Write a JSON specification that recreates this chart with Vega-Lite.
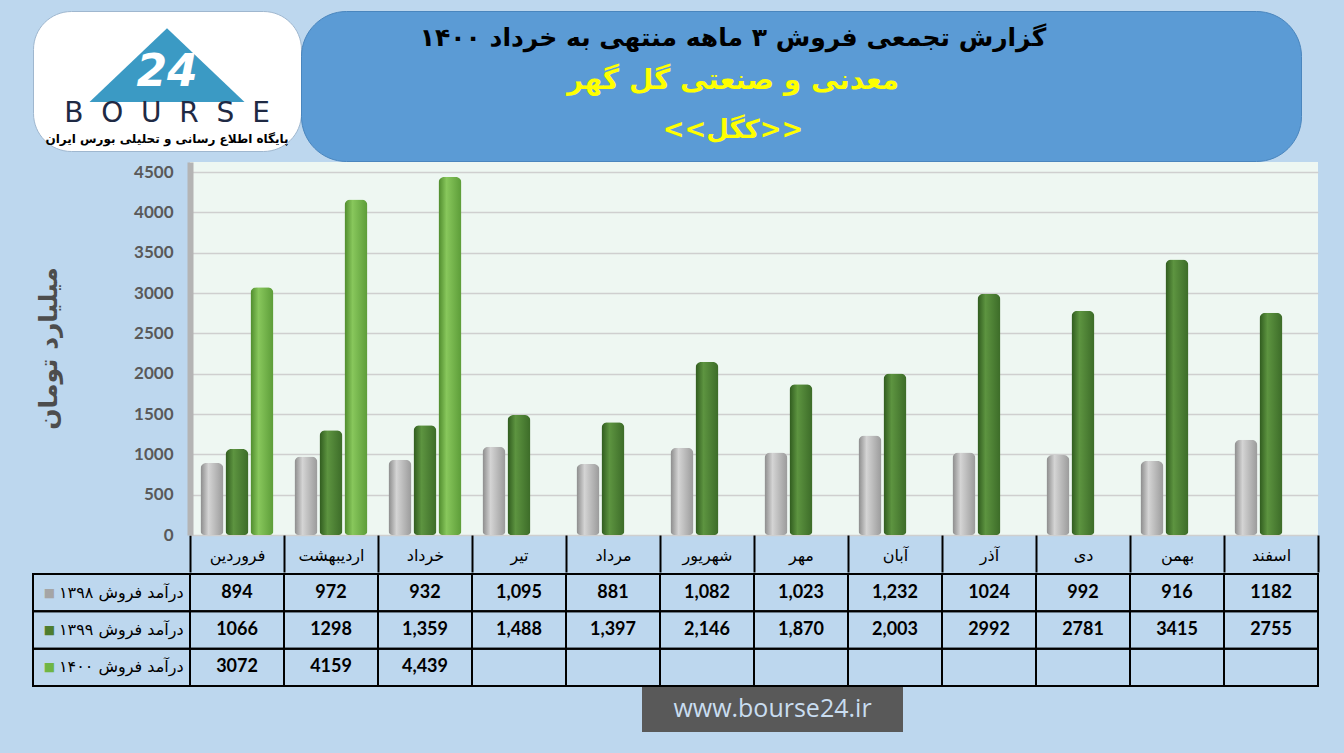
{
  "$schema": "https://vega.github.io/schema/vega-lite/v6.json",
  "padding": {"left": 32, "top": 10, "right": 27, "bottom": 25},
  "background": "#BDD7EE",
  "config": {"view": {"stroke": null}, "font": "DejaVu Sans"},
  "datasets": {
    "sales": [
      {"month": "فروردین", "series": "درآمد فروش ۱۳۹۸", "value": 894, "label": "894"},
      {"month": "اردیبهشت", "series": "درآمد فروش ۱۳۹۸", "value": 972, "label": "972"},
      {"month": "خرداد", "series": "درآمد فروش ۱۳۹۸", "value": 932, "label": "932"},
      {"month": "تیر", "series": "درآمد فروش ۱۳۹۸", "value": 1095, "label": "1,095"},
      {"month": "مرداد", "series": "درآمد فروش ۱۳۹۸", "value": 881, "label": "881"},
      {"month": "شهریور", "series": "درآمد فروش ۱۳۹۸", "value": 1082, "label": "1,082"},
      {"month": "مهر", "series": "درآمد فروش ۱۳۹۸", "value": 1023, "label": "1,023"},
      {"month": "آبان", "series": "درآمد فروش ۱۳۹۸", "value": 1232, "label": "1,232"},
      {"month": "آذر", "series": "درآمد فروش ۱۳۹۸", "value": 1024, "label": "1024"},
      {"month": "دی", "series": "درآمد فروش ۱۳۹۸", "value": 992, "label": "992"},
      {"month": "بهمن", "series": "درآمد فروش ۱۳۹۸", "value": 916, "label": "916"},
      {"month": "اسفند", "series": "درآمد فروش ۱۳۹۸", "value": 1182, "label": "1182"},
      {"month": "فروردین", "series": "درآمد فروش ۱۳۹۹", "value": 1066, "label": "1066"},
      {"month": "اردیبهشت", "series": "درآمد فروش ۱۳۹۹", "value": 1298, "label": "1298"},
      {"month": "خرداد", "series": "درآمد فروش ۱۳۹۹", "value": 1359, "label": "1,359"},
      {"month": "تیر", "series": "درآمد فروش ۱۳۹۹", "value": 1488, "label": "1,488"},
      {"month": "مرداد", "series": "درآمد فروش ۱۳۹۹", "value": 1397, "label": "1,397"},
      {"month": "شهریور", "series": "درآمد فروش ۱۳۹۹", "value": 2146, "label": "2,146"},
      {"month": "مهر", "series": "درآمد فروش ۱۳۹۹", "value": 1870, "label": "1,870"},
      {"month": "آبان", "series": "درآمد فروش ۱۳۹۹", "value": 2003, "label": "2,003"},
      {"month": "آذر", "series": "درآمد فروش ۱۳۹۹", "value": 2992, "label": "2992"},
      {"month": "دی", "series": "درآمد فروش ۱۳۹۹", "value": 2781, "label": "2781"},
      {"month": "بهمن", "series": "درآمد فروش ۱۳۹۹", "value": 3415, "label": "3415"},
      {"month": "اسفند", "series": "درآمد فروش ۱۳۹۹", "value": 2755, "label": "2755"},
      {"month": "فروردین", "series": "درآمد فروش ۱۴۰۰", "value": 3072, "label": "3072"},
      {"month": "اردیبهشت", "series": "درآمد فروش ۱۴۰۰", "value": 4159, "label": "4159"},
      {"month": "خرداد", "series": "درآمد فروش ۱۴۰۰", "value": 4439, "label": "4,439"},
      {"month": "تیر", "series": "درآمد فروش ۱۴۰۰", "value": null, "label": ""},
      {"month": "مرداد", "series": "درآمد فروش ۱۴۰۰", "value": null, "label": ""},
      {"month": "شهریور", "series": "درآمد فروش ۱۴۰۰", "value": null, "label": ""},
      {"month": "مهر", "series": "درآمد فروش ۱۴۰۰", "value": null, "label": ""},
      {"month": "آبان", "series": "درآمد فروش ۱۴۰۰", "value": null, "label": ""},
      {"month": "آذر", "series": "درآمد فروش ۱۴۰۰", "value": null, "label": ""},
      {"month": "دی", "series": "درآمد فروش ۱۴۰۰", "value": null, "label": ""},
      {"month": "بهمن", "series": "درآمد فروش ۱۴۰۰", "value": null, "label": ""},
      {"month": "اسفند", "series": "درآمد فروش ۱۴۰۰", "value": null, "label": ""}
    ],
    "rows": [
      {"series": "درآمد فروش ۱۳۹۸"},
      {"series": "درآمد فروش ۱۳۹۹"},
      {"series": "درآمد فروش ۱۴۰۰"}
    ],
    "header": [
      {"line": "title", "text": "گزارش تجمعی فروش ۳ ماهه منتهی به خرداد ۱۴۰۰"},
      {"line": "company", "text": "معدنی و صنعتی گل گهر"},
      {"line": "ticker", "text": "<<کگل>>"}
    ],
    "logo": [
      {"part": "emblem", "text": "24"},
      {"part": "wordmark", "text": "B\u2007O\u2007U\u2007R\u2007S\u2007E"},
      {"part": "tagline", "text": "پایگاه اطلاع رسانی و تحلیلی بورس ایران"}
    ],
    "ytitle": [{"title": "میلیارد تومان"}],
    "site": [{"url": "www.bourse24.ir"}]
  },
  "spacing": 0,
  "vconcat": [
    {
      "spacing": 0,
      "bounds": "flush",
      "hconcat": [
        {
          "width": 268,
          "height": 140,
          "view": {"fill": "white", "cornerRadius": 38, "stroke": "#9FB7CF", "strokeWidth": 1},
          "data": {"name": "logo"},
          "layer": [
            {
              "transform": [{"filter": {"field": "part", "equal": "emblem"}}],
              "mark": {"type": "point", "shape": "M0,-0.68L1,0.27L-1,0.27Z", "filled": true, "size": 24025, "color": "#3B9AC4", "opacity": 1, "strokeWidth": 0},
              "encoding": {}
            },
            {
              "transform": [{"filter": {"field": "part", "equal": "emblem"}}],
              "mark": {"type": "text", "color": "white", "fontSize": 44, "fontWeight": "bold", "fontStyle": "italic", "dy": -8, "baseline": "middle"},
              "encoding": {"text": {"field": "text"}}
            },
            {
              "transform": [{"filter": {"field": "part", "equal": "wordmark"}}],
              "mark": {"type": "text", "color": "#1F2A44", "fontSize": 28, "dy": 33, "baseline": "middle"},
              "encoding": {"text": {"field": "text"}}
            },
            {
              "transform": [{"filter": {"field": "part", "equal": "tagline"}}],
              "mark": {"type": "text", "color": "black", "fontSize": 12, "fontWeight": "bold", "dy": 58, "baseline": "middle"},
              "encoding": {"text": {"field": "text"}}
            }
          ]
        },
        {
          "width": 1000,
          "height": 150,
          "view": {"fill": "#5B9BD5", "cornerRadius": 45, "stroke": "#4A86BE", "strokeWidth": 1},
          "data": {"name": "header"},
          "encoding": {
            "y": {"field": "line", "type": "nominal", "scale": {"domain": ["title", "company", "ticker"], "paddingInner": 0, "paddingOuter": 0}, "axis": null},
            "text": {"field": "text"}
          },
          "layer": [
            {
              "transform": [{"filter": {"field": "line", "equal": "title"}}],
              "mark": {"type": "text", "color": "black", "fontSize": 25, "fontWeight": "bold", "dx": -68, "dy": 2}
            },
            {
              "transform": [{"filter": {"field": "line", "equal": "company"}}],
              "mark": {"type": "text", "color": "#FFFF00", "fontSize": 28, "fontWeight": "bold", "dx": -68, "dy": -5}
            },
            {
              "transform": [{"filter": {"field": "line", "equal": "ticker"}}],
              "mark": {"type": "text", "color": "#FFFF00", "fontSize": 26, "fontWeight": "bold", "dx": -68, "dy": -6}
            }
          ]
        }
      ]
    },
    {
      "spacing": 125,
      "bounds": "flush",
      "hconcat": [
        {
          "width": 32,
          "height": 373,
          "data": {"name": "ytitle"},
          "mark": {"type": "text", "angle": 270, "fontSize": 25, "fontWeight": "bold", "color": "#4D4D4D", "baseline": "middle"},
          "encoding": {"text": {"field": "title"}}
        },
        {
          "width": 1128,
          "height": 373,
          "view": {"fill": "#EEF7F2"},
          "data": {"name": "sales"},
          "encoding": {
            "x": {
              "field": "month", "type": "nominal",
              "sort": ["فروردین", "اردیبهشت", "خرداد", "تیر", "مرداد", "شهریور", "مهر", "آبان", "آذر", "دی", "بهمن", "اسفند"],
              "scale": {"paddingInner": 0, "paddingOuter": 0},
              "axis": {"title": null, "domain": false, "grid": false, "tickBand": "extent", "tickSize": 37, "tickWidth": 2, "tickColor": "black", "labelPadding": -17, "labelBaseline": "middle", "labelFontSize": 16, "labelColor": "black", "labelFont": "DejaVu Sans", "labelAngle": 0, "labelOverlap": false}
            },
            "xOffset": {
              "field": "series", "type": "nominal",
              "sort": ["درآمد فروش ۱۳۹۸", "درآمد فروش ۱۳۹۹", "درآمد فروش ۱۴۰۰"],
              "scale": {"domain": ["درآمد فروش ۱۳۹۸", "درآمد فروش ۱۳۹۹", "درآمد فروش ۱۴۰۰"], "paddingInner": 0.08, "paddingOuter": 0.42}
            },
            "y": {
              "field": "value", "type": "quantitative",
              "scale": {"domain": [0, 4624], "nice": false},
              "axis": {"title": null, "format": "d", "values": [0, 500, 1000, 1500, 2000, 2500, 3000, 3500, 4000, 4500], "grid": true, "gridColor": "#CFCFCF", "gridWidth": 1.5, "domain": true, "domainColor": "#B4B4B4", "domainWidth": 6, "ticks": false, "labelPadding": 17, "labelFont": "Lato", "labelFontSize": 17, "labelFontWeight": "bold", "labelColor": "#595959"}
            }
          },
          "layer": [
            {
              "transform": [{"filter": {"field": "series", "equal": "درآمد فروش ۱۳۹۸"}}],
              "mark": {"type": "bar", "cornerRadiusTopLeft": 6, "cornerRadiusTopRight": 6, "cornerRadiusBottomLeft": 4, "cornerRadiusBottomRight": 4,
                "fill": {"gradient": "linear", "x1": 0, "x2": 1, "y1": 0, "y2": 0, "stops": [{"offset": 0, "color": "#8A8A8A"}, {"offset": 0.35, "color": "#D4D4D4"}, {"offset": 1, "color": "#9A9A9A"}]}}
            },
            {
              "transform": [{"filter": {"field": "series", "equal": "درآمد فروش ۱۳۹۹"}}],
              "mark": {"type": "bar", "cornerRadiusTopLeft": 6, "cornerRadiusTopRight": 6, "cornerRadiusBottomLeft": 4, "cornerRadiusBottomRight": 4,
                "fill": {"gradient": "linear", "x1": 0, "x2": 1, "y1": 0, "y2": 0, "stops": [{"offset": 0, "color": "#2F5A1E"}, {"offset": 0.35, "color": "#5D9440"}, {"offset": 1, "color": "#3C6B28"}]}}
            },
            {
              "transform": [{"filter": {"field": "series", "equal": "درآمد فروش ۱۴۰۰"}}],
              "mark": {"type": "bar", "cornerRadiusTopLeft": 6, "cornerRadiusTopRight": 6, "cornerRadiusBottomLeft": 4, "cornerRadiusBottomRight": 4,
                "fill": {"gradient": "linear", "x1": 0, "x2": 1, "y1": 0, "y2": 0, "stops": [{"offset": 0, "color": "#4E8A2C"}, {"offset": 0.35, "color": "#88C75C"}, {"offset": 1, "color": "#5C9C38"}]}}
            }
          ]
        }
      ]
    },
    {
      "spacing": 0,
      "bounds": "flush",
      "hconcat": [
        {
          "width": 157,
          "height": 112,
          "data": {"name": "rows"},
          "encoding": {
            "y": {"field": "series", "type": "nominal", "scale": {"domain": ["درآمد فروش ۱۳۹۸", "درآمد فروش ۱۳۹۹", "درآمد فروش ۱۴۰۰"], "paddingInner": 0, "paddingOuter": 0}, "axis": null}
          },
          "layer": [
            {"mark": {"type": "rect", "fillOpacity": 0, "stroke": "black", "strokeWidth": 2}},
            {"mark": {"type": "text", "align": "right", "dx": 72, "fontSize": 16, "color": "black", "baseline": "middle"}, "encoding": {"text": {"field": "series"}}},
            {"mark": {"type": "text", "dx": -62, "fontSize": 12, "baseline": "middle", "text": "■"},
             "encoding": {"color": {"field": "series", "type": "nominal", "scale": {"domain": ["درآمد فروش ۱۳۹۸", "درآمد فروش ۱۳۹۹", "درآمد فروش ۱۴۰۰"], "range": ["#A5A5A5", "#4E7D2E", "#6FB544"]}, "legend": null}}}
          ]
        },
        {
          "width": 1128,
          "height": 112,
          "data": {"name": "sales"},
          "encoding": {
            "x": {"field": "month", "type": "nominal", "sort": ["فروردین", "اردیبهشت", "خرداد", "تیر", "مرداد", "شهریور", "مهر", "آبان", "آذر", "دی", "بهمن", "اسفند"], "scale": {"paddingInner": 0, "paddingOuter": 0}, "axis": null},
            "y": {"field": "series", "type": "nominal", "scale": {"domain": ["درآمد فروش ۱۳۹۸", "درآمد فروش ۱۳۹۹", "درآمد فروش ۱۴۰۰"], "paddingInner": 0, "paddingOuter": 0}, "axis": null}
          },
          "layer": [
            {"mark": {"type": "rect", "fillOpacity": 0, "stroke": "black", "strokeWidth": 2}},
            {"mark": {"type": "text", "font": "Lato", "fontSize": 18, "fontWeight": "bold", "color": "black", "baseline": "middle"}, "encoding": {"text": {"field": "label"}}}
          ]
        }
      ]
    },
    {
      "spacing": 0,
      "bounds": "flush",
      "hconcat": [
        {
          "width": 609,
          "height": 45,
          "data": {"values": []},
          "mark": {"type": "text"},
          "encoding": {}
        },
        {
          "width": 261,
          "height": 45,
          "view": {"fill": "#595959"},
          "data": {"name": "site"},
          "mark": {"type": "text", "font": "Open Sans", "fontSize": 25, "color": "#C9DDF0", "baseline": "middle", "dy": -1},
          "encoding": {"text": {"field": "url"}}
        }
      ]
    }
  ]
}
